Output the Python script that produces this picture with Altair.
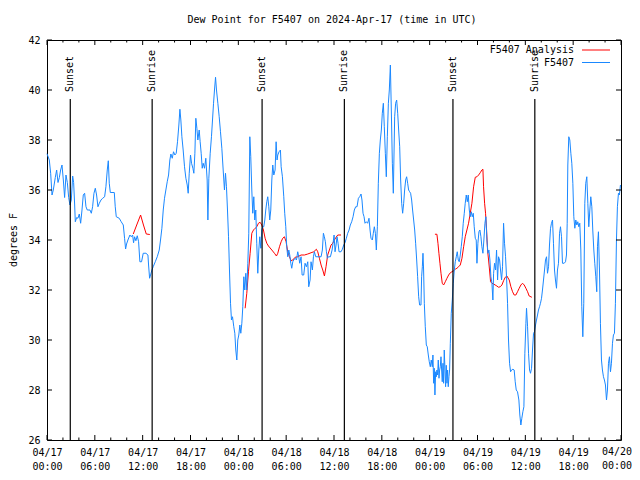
import altair as alt
import pandas as pd

# ---------------- data (hours since 2024-04-17 00:00 UTC, degrees F) ----------------
blue_t = [0.0, 0.29, 0.46, 0.63, 0.79, 1.04, 1.21, 1.38, 1.55, 1.71, 1.88, 2.05, 2.21, 2.38, 2.55, 2.72, 2.88,
          3.05, 3.22, 3.34, 3.47, 3.55, 3.72, 3.88, 4.05, 4.22, 4.39, 4.55, 4.72, 4.89, 5.05, 5.39, 5.56, 5.72,
          5.89, 6.06, 6.22, 6.39, 6.56, 6.77, 6.98, 7.23, 7.39, 7.56, 7.69, 7.81, 7.94, 8.44, 8.56, 8.69, 9.06,
          9.31, 9.57, 9.73, 9.86, 9.98, 10.15, 10.40, 10.57, 10.74, 10.86, 10.99, 11.15, 11.32, 11.49, 11.65,
          11.86, 12.07, 12.41, 12.66, 12.74, 12.87, 12.99, 13.16, 13.32, 13.58, 13.83, 14.08, 14.24,
          14.41, 14.58, 14.74, 14.91, 15.08, 15.25, 15.41, 15.54, 15.71, 15.87, 16.04, 16.21, 16.37, 16.54,
          16.67, 16.79, 16.92, 17.08, 17.25, 17.42, 17.59, 17.71, 17.84, 18.0, 18.13, 18.3, 18.42, 18.55,
          18.67, 18.8, 18.92, 19.09, 19.21, 19.34, 19.47, 19.59, 19.76, 19.92, 20.09, 20.18, 20.3, 20.47,
          20.63, 20.76, 20.89, 21.01, 21.14, 21.26, 21.43, 21.6, 21.76, 21.93, 22.1, 22.26, 22.39, 22.51,
          22.64, 22.77, 22.89, 23.02, 23.14, 23.27, 23.43, 23.56, 23.68, 23.81, 23.93, 24.06, 24.19, 24.31,
          24.44, 24.56, 24.69, 24.81, 24.94, 25.06, 25.19, 25.31, 25.44, 25.56, 25.69, 25.81, 25.94, 26.06,
          26.19, 26.31, 26.44, 26.57, 26.69, 26.82, 26.94, 27.07, 27.19, 27.32, 27.44, 27.57, 27.69, 27.82,
          27.94, 28.07, 28.2, 28.32, 28.45, 28.61, 28.74, 28.86,
          28.95, 29.11, 29.28, 29.37, 29.53, 29.7, 29.82, 29.95, 30.07, 30.2, 30.33, 30.45, 30.58, 30.7,
          30.83, 30.95, 31.12, 31.29, 31.45, 31.58, 31.7, 31.87, 32.0, 32.2, 32.37, 32.54, 32.71, 32.83,
          33.0, 33.12, 33.29, 33.42, 33.54, 33.71, 33.88, 34.13, 34.38, 34.54, 34.67, 34.79, 34.92, 35.05,
          35.17, 35.3, 35.55, 35.76, 35.88, 36.01, 36.13, 36.26, 36.38, 36.51, 36.63, 36.88, 37.05, 37.22,
          37.38, 37.55, 37.72, 37.89, 38.05, 38.22, 38.39, 38.55, 38.72, 38.89, 39.06, 39.22, 39.39, 39.51,
          39.64, 39.77, 39.89, 40.06, 40.22, 40.39, 40.52, 40.64, 40.81, 40.93, 41.06, 41.19, 41.31, 41.44,
          41.56, 41.69, 41.81, 41.94, 42.06, 42.19, 42.31, 42.44, 42.56, 42.69, 42.82, 42.94, 43.07, 43.19,
          43.32, 43.44,
          43.61, 43.73, 43.86, 43.99, 44.11, 44.24, 44.36, 44.49, 44.61, 44.74, 44.86, 44.99, 45.11, 45.24,
          45.36, 45.49, 45.61, 45.74, 45.86, 45.99, 46.12, 46.24, 46.37, 46.49, 46.62, 46.74, 46.91, 46.99,
          47.08, 47.16, 47.24, 47.33, 47.45, 47.58, 47.70, 47.83, 47.95, 48.08, 48.2, 48.33, 48.41, 48.5,
          48.58, 48.66, 48.75, 48.83, 48.91, 49.0, 49.08, 49.17, 49.25, 49.33, 49.42, 49.5, 49.58, 49.67,
          49.75, 49.83, 49.92, 50.0, 50.08, 50.17, 50.25, 50.33, 50.42, 50.5, 50.59, 50.71, 50.84, 50.96,
          51.09, 51.21, 51.34, 51.46, 51.59, 51.71, 51.84, 51.96, 52.09, 52.21, 52.34, 52.46, 52.59, 52.72,
          52.84, 52.97, 53.09, 53.22, 53.34, 53.47, 53.59, 53.72, 53.84, 53.93, 54.05, 54.18, 54.30, 54.43,
          54.55, 54.68, 54.80, 54.93, 55.05, 55.18, 55.31, 55.43, 55.56, 55.68, 55.81, 55.93, 56.02, 56.14,
          56.27, 56.39, 56.52, 56.64, 56.77, 56.89, 57.02, 57.14, 57.27, 57.39, 57.52, 57.64, 57.77,
          57.89, 58.02, 58.15, 58.27, 58.44, 58.6, 58.73, 58.86, 59.02, 59.19, 59.31, 59.44, 59.56, 59.69,
          59.82, 59.94, 60.07, 60.15, 60.28, 60.40, 60.53, 60.65, 60.78, 60.9, 61.03, 61.15, 61.28, 61.40,
          61.53, 61.65, 61.78, 61.9, 62.03, 62.15, 62.28, 62.41, 62.53, 62.66, 62.78, 62.91, 63.03, 63.16,
          63.28, 63.41, 63.53, 63.66, 63.78, 63.91, 64.03, 64.16, 64.29, 64.41, 64.54, 64.66, 64.87, 65.04,
          65.16, 65.25, 65.33, 65.45, 65.58, 65.71, 65.83, 65.96, 66.08, 66.21, 66.33, 66.46, 66.58, 66.71,
          66.83, 66.96, 67.08, 67.21, 67.33, 67.46, 67.58, 67.71, 67.84, 67.96, 68.09, 68.21, 68.34, 68.46,
          68.59, 68.71, 68.84, 68.96, 69.05, 69.17, 69.30, 69.42, 69.55, 69.67, 69.8, 69.92, 70.05, 70.18,
          70.3, 70.43, 70.55, 70.68, 70.80, 70.93, 71.05, 71.18, 71.30, 71.43, 71.55, 71.68, 71.80, 71.93]

blue_v = [37.45, 37.2, 36.67, 35.8, 36.0, 36.5, 36.8, 36.3, 36.5, 36.8, 37.0, 36.4, 35.7, 36.6, 36.3, 35.7, 35.4,
          35.6, 36.56, 36.3, 35.4, 34.73, 34.9, 34.87, 35.04, 34.67, 35.2, 35.8, 35.87, 35.33, 35.2, 35.2, 35.07, 35.33,
          35.87, 36.07, 35.8, 35.33, 35.47, 35.6, 35.67, 35.73, 36.13, 36.8, 37.17, 36.27, 35.9, 35.9, 35.33, 34.93, 34.87,
          34.73, 34.6, 34.07, 33.64, 33.84, 34.0, 34.2, 34.13, 34.2, 33.89, 34.13, 33.97, 34.17, 33.93, 33.13,
          33.13, 33.47, 33.47, 33.4, 33.0, 32.47, 32.6, 32.8, 32.93, 33.13, 33.33, 33.6, 34.0,
          34.47, 35.2, 35.67, 36.0, 36.33, 36.6, 37.2, 37.44, 37.27, 37.53, 37.4, 37.47, 37.93, 38.6,
          39.23, 38.8, 38.13, 37.6, 36.93, 36.47, 36.2, 35.87, 36.67, 37.4, 37.07, 36.87, 36.67, 37.47,
          38.87, 38.47, 38.0, 38.4, 37.93, 37.47, 36.87, 37.07, 36.87, 37.27, 36.4, 34.8, 36.47, 37.47,
          38.13, 38.8, 39.47, 40.0, 40.51, 40.0, 39.47, 38.93, 38.33, 37.67, 36.8, 36.0, 36.67, 36.13,
          35.2, 34.13, 32.8, 31.47, 30.8, 30.93, 30.53, 30.27, 29.6, 29.2, 30.0, 30.2, 30.6, 30.27,
          30.67, 31.33, 32.53, 32.0, 32.67, 32.0, 33.07, 34.27, 38.13, 37.33, 36.0, 35.07, 35.73, 34.8,
          35.2, 33.87, 32.67, 33.6, 34.13, 33.67, 34.4, 34.53, 34.53, 34.8, 35.2, 35.53, 35.73, 35.33,
          34.8, 35.2, 36.4, 37.0, 36.6, 36.8, 37.93, 37.2,
          37.4, 37.53, 37.6, 36.93, 36.53, 35.73, 35.07, 34.53, 33.73, 33.33, 33.6, 33.4, 33.07, 32.87,
          33.13, 33.2, 33.27, 33.2, 33.53, 33.33, 33.07, 33.33, 32.6, 32.6, 33.07, 32.93, 33.13, 32.13,
          32.4, 33.13, 32.8, 33.33, 33.53, 33.33, 33.33, 33.33, 33.33, 33.6, 34.27, 34.13, 33.93, 33.53,
          33.27, 33.33, 33.33, 33.6, 33.87, 34.2, 33.53, 33.8, 34.13, 33.87, 33.53, 33.53, 33.63, 33.8,
          33.89, 34.07, 34.27, 34.4, 34.6, 34.73, 34.93, 35.2, 35.33, 35.33, 35.67, 35.73, 35.84, 35.6,
          35.07, 34.93, 34.67, 34.73, 34.67, 34.87, 34.4, 34.07, 34.0, 34.27, 34.53, 34.27, 33.6, 34.53,
          36.27, 37.47, 38.0, 38.4, 39.07, 39.47, 38.53, 37.47, 36.53, 38.13, 39.47, 40.0, 41.0, 39.2,
          37.07, 35.87,
          38.93, 39.47, 39.6, 39.07, 38.4, 37.73, 36.4, 35.47, 35.07, 35.47, 36.0, 36.4, 36.53, 36.27,
          36.0, 35.93, 35.87, 35.6, 35.2, 34.8, 34.4, 33.87, 33.2, 32.53, 31.73, 31.4, 31.4, 32.53,
          32.93, 33.47, 32.8, 31.47, 30.53, 29.8, 29.73, 29.4, 29.13, 28.93, 29.2, 28.93, 29.4, 28.27,
          28.87, 27.8, 28.73, 28.53, 28.8, 28.6, 29.2, 28.47, 28.8, 28.93, 29.33, 28.8, 28.33, 29.07,
          28.27, 29.6, 28.8, 28.13, 28.99, 28.27, 28.8, 28.13, 28.53, 28.8, 29.87, 31.07, 31.6, 32.27,
          32.8, 33.13, 33.33, 33.53, 33.2, 33.13, 33.4, 33.73, 34.13, 34.67, 35.07, 35.47, 35.8, 35.53,
          35.8, 35.2, 34.93, 35.13, 34.93, 35.07, 34.53, 34.07, 34.0, 33.07, 33.87, 34.33, 34.4, 34.13,
          33.73, 33.47, 34.0, 34.67, 34.93, 34.0, 33.47, 33.6, 33.2, 32.53, 32.27, 31.6, 32.67, 33.07,
          32.8, 33.6, 32.4, 33.33, 33.2, 32.8, 32.4, 32.93, 34.67, 33.87, 33.33, 32.53, 31.47,
          30.0, 29.07, 28.73, 28.8, 28.83, 28.8, 28.33, 28.0, 27.93, 27.6, 27.0, 26.6, 26.87, 27.13,
          27.33, 29.47, 30.67, 31.27, 30.53, 29.47, 28.8, 28.67, 28.87, 29.6, 30.27, 30.33, 30.6, 30.8,
          31.0, 31.2, 31.33, 31.47, 31.67, 32.0, 32.4, 32.8, 33.2, 33.33, 32.67, 32.93, 33.8, 34.47,
          34.67, 34.8, 33.87, 32.8, 32.4, 32.07, 32.8, 33.07, 34.27, 34.53, 34.13, 33.07, 33.07, 33.13,
          33.4, 34.67, 37.0, 38.13, 38.0, 37.47, 37.07, 36.27, 34.93, 34.47, 34.8, 34.6, 34.73, 34.53,
          34.67, 33.6, 31.33, 30.13, 31.47, 35.47, 36.27, 36.53, 35.47, 34.53, 35.2, 35.73, 35.33, 34.4,
          33.6, 33.07, 32.53, 31.93, 33.73, 34.33, 32.8, 30.67, 29.2, 28.8, 28.53, 28.4, 28.2, 27.6,
          28.0, 29.07, 29.33, 28.73, 29.07, 29.87, 30.2, 30.27, 31.47, 34.0, 35.33, 35.87, 35.8, 36.2]

red1_t = [10.82, 11.25, 11.74, 12.1, 12.45, 12.9]
red1_v = [34.24, 34.6, 35.0, 34.6, 34.24, 34.22]

red2_t = [24.85, 25.06, 25.27, 25.48, 25.69, 25.9, 26.11, 26.32, 26.52, 26.73, 26.94, 27.15, 27.36, 27.57,
          27.78, 28.2, 28.53, 28.78, 28.95, 29.16, 29.37, 29.57, 29.78, 29.99, 30.2, 30.41, 30.62, 30.83,
          31.12, 31.45, 31.87, 32.29, 32.71, 33.12, 33.46, 33.79, 33.96, 34.17, 34.38, 34.59, 34.8, 35.0,
          35.21, 35.42, 35.63, 35.84, 36.05, 36.26, 36.47, 36.88]
red2_v = [31.27, 31.87, 32.73, 33.47, 34.27, 34.4, 34.47, 34.53, 34.67, 34.71, 34.6, 34.4, 34.07, 33.87,
          33.76, 33.6, 33.47, 33.36, 33.47, 33.73, 33.93, 34.07, 34.13, 33.93, 33.53, 33.33, 33.17, 33.2,
          33.31, 33.33, 33.4, 33.4, 33.44, 33.49, 33.53, 33.63, 33.53, 33.27, 33.0, 32.8, 32.56, 32.93,
          33.4, 33.6, 33.8, 33.87, 34.0, 34.11, 34.2, 34.2]

red3_t = [48.66, 48.91, 49.04, 49.16, 49.29, 49.42, 49.58, 49.75, 49.96, 50.17, 50.38, 50.59, 50.79, 51.0,
          51.21, 51.42, 51.63, 51.84, 52.05, 52.26, 52.46, 52.67, 52.88, 53.09, 53.3, 53.51, 53.72, 53.93,
          54.14, 54.34, 54.55, 54.68, 54.76, 54.89, 55.01, 55.14, 55.26, 55.39, 55.51, 55.64, 55.81, 56.02,
          56.22, 56.43, 56.64, 56.85, 57.06, 57.27, 57.48, 57.69, 57.98, 58.19, 58.4, 58.6, 58.81, 59.02,
          59.23, 59.44, 59.65, 59.86, 60.07, 60.28, 60.48, 60.82]
red3_v = [34.23, 34.23, 33.87, 33.47, 33.07, 32.67, 32.27, 32.2, 32.33, 32.47, 32.6, 32.69, 32.73, 32.77,
          32.83, 32.87, 32.93, 33.0, 33.27, 33.73, 34.13, 34.4, 34.67, 35.07, 35.47, 36.13, 36.51, 36.53,
          36.6, 36.69, 36.8, 36.83, 36.13, 35.47, 35.07, 34.4, 33.6, 33.2, 32.8, 32.33, 32.27, 32.24,
          32.2, 32.16, 32.11, 32.13, 32.2, 32.37, 32.51, 32.56, 32.4, 32.13, 31.93, 31.8, 31.8, 31.93,
          32.07, 32.2, 32.27, 32.2, 32.07, 31.93, 31.76, 31.71]

sun_t = [2.92, 13.19, 26.98, 37.3, 50.92, 61.19]
sun_label = ["Sunset", "Sunrise", "Sunset", "Sunrise", "Sunset", "Sunrise"]

y_ticks = [26, 28, 30, 32, 34, 36, 38, 40, 42]
x_major = [0, 6, 12, 18, 24, 30, 36, 42, 48, 54, 60, 66, 72]
x_minor = [2, 4, 8, 10, 14, 16, 20, 22, 26, 28, 32, 34, 38, 40, 44, 46, 50, 52, 56, 58, 62, 64, 68, 70]
x_last_label = "04/20\n00:00"

title_text = "Dew Point for F5407 on 2024-Apr-17 (time in UTC)"
legend_names = ["F5407 Analysis", "F5407"]

# ---------------- styling ----------------
W, H = 574, 400
FONT = "DejaVu Sans Mono"
BLUE = "#1a88ff"
RED = "#ff0000"

xs = alt.Scale(domain=[0, 72], nice=False, zero=False)
ys = alt.Scale(domain=[26, 42], nice=False, zero=False)

x_axis = alt.Axis(
    values=x_major,
    labelExpr="datum.value >= 72 ? '' : ['04/' + format(17 + floor(datum.value / 24), '02d'), format(datum.value % 24, '02d') + ':00']",
    tickSize=0, domain=False, grid=False, title=None,
    labelFont=FONT, labelFontSize=10, labelColor="black", labelPadding=7,
    labelBaseline="top", labelLineHeight=14, labelOverlap=False, labelFlush=False, labelBound=False,
)
y_axis = alt.Axis(
    values=y_ticks, tickSize=0, domain=False, grid=False, title=None,
    labelFont=FONT, labelFontSize=10, labelColor="black", labelPadding=7,
)

X = alt.X("t:Q", scale=xs, axis=x_axis)
Y = alt.Y("v:Q", scale=ys, axis=y_axis)

blue_df = pd.DataFrame({"t": blue_t, "v": blue_v})
red_df = pd.concat([
    pd.DataFrame({"t": red1_t, "v": red1_v, "seg": 1}),
    pd.DataFrame({"t": red2_t, "v": red2_v, "seg": 2}),
    pd.DataFrame({"t": red3_t, "v": red3_v, "seg": 3}),
])
sun_df = pd.DataFrame({"t": sun_t, "label": sun_label})
xmaj_df = pd.DataFrame({"t": x_major})
xmin_df = pd.DataFrame({"t": x_minor})
ytk_df = pd.DataFrame({"v": y_ticks})
last_df = pd.DataFrame({"t": [x_major[-1]], "label": [x_last_label]})
one = pd.DataFrame({"a": [0]})

red = alt.Chart(red_df).mark_line(color=RED, strokeWidth=1).encode(x=X, y=Y, detail="seg:N")
blue = alt.Chart(blue_df).mark_line(color=BLUE, strokeWidth=1).encode(x=X, y=Y)

sun_rule = alt.Chart(sun_df).mark_rule(color="black", strokeWidth=1.2).encode(
    x=X, y=alt.value(59), y2=alt.value(H))
sun_text = alt.Chart(sun_df).mark_text(
    angle=270, align="left", baseline="middle", font=FONT, fontSize=10, color="black"
).encode(x=X, y=alt.value(52), text="label:N")

# last x label kept inside the page edge
last_label = alt.Chart(last_df).mark_text(
    align="right", baseline="top", dx=11, font=FONT, fontSize=10, color="black",
    lineBreak="\n", lineHeight=14,
).encode(x=X, y=alt.value(H + 7), text="label:N")

MAJ, MIN, YT = 5, 2.5, 5
tick_layers = [
    alt.Chart(xmaj_df).mark_rule(color="black").encode(x=X, y=alt.value(H), y2=alt.value(H - MAJ)),
    alt.Chart(xmaj_df).mark_rule(color="black").encode(x=X, y=alt.value(0), y2=alt.value(MAJ)),
    alt.Chart(xmin_df).mark_rule(color="black").encode(x=X, y=alt.value(H), y2=alt.value(H - MIN)),
    alt.Chart(xmin_df).mark_rule(color="black").encode(x=X, y=alt.value(0), y2=alt.value(MIN)),
    alt.Chart(ytk_df).mark_rule(color="black").encode(y=Y, x=alt.value(0), x2=alt.value(YT)),
    alt.Chart(ytk_df).mark_rule(color="black").encode(y=Y, x=alt.value(W), x2=alt.value(W - YT)),
]

title = alt.Chart(one).mark_text(font=FONT, fontSize=10, color="black", baseline="middle").encode(
    x=alt.value(W / 2 - 2), y=alt.value(-20), text=alt.value(title_text))
ylabel = alt.Chart(one).mark_text(font=FONT, fontSize=10, color="black", angle=270,
                                  align="center", baseline="middle").encode(
    x=alt.value(-33), y=alt.value(200), text=alt.value("degrees F"))

leg_text1 = alt.Chart(one).mark_text(font=FONT, fontSize=10, color="black", align="right",
                                     baseline="middle").encode(
    x=alt.value(527), y=alt.value(10), text=alt.value(legend_names[0]))
leg_text2 = alt.Chart(one).mark_text(font=FONT, fontSize=10, color="black", align="right",
                                     baseline="middle").encode(
    x=alt.value(527), y=alt.value(22.5), text=alt.value(legend_names[1]))
leg_line1 = alt.Chart(one).mark_rule(color=RED, strokeWidth=1).encode(
    x=alt.value(535), x2=alt.value(563), y=alt.value(10))
leg_line2 = alt.Chart(one).mark_rule(color=BLUE, strokeWidth=1).encode(
    x=alt.value(535), x2=alt.value(563), y=alt.value(22.5))

chart = alt.layer(
    red, blue, sun_rule, sun_text, last_label, *tick_layers, title, ylabel,
    leg_text1, leg_text2, leg_line1, leg_line2,
).properties(
    width=W, height=H,
    autosize=alt.AutoSizeParams(type="none"),
    padding={"left": 39, "top": 32, "right": 11, "bottom": 32},
    background="white",
).configure_view(stroke="black", strokeWidth=1)

chart.save("out.html", embed_options={"renderer": "svg", "actions": False})
